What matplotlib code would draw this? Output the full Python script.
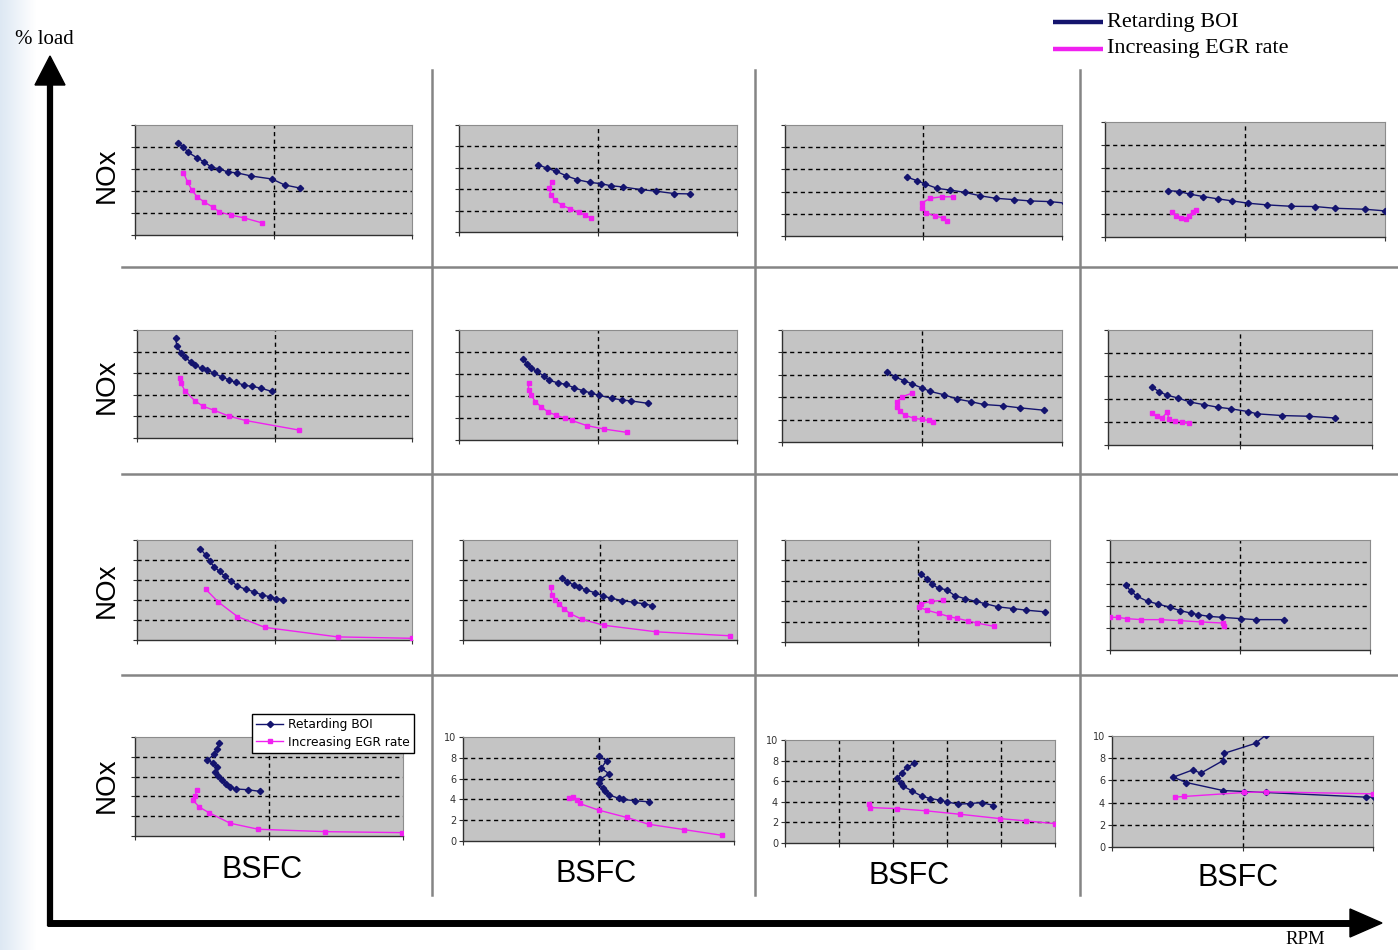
import matplotlib.pyplot as plt
from matplotlib.colors import LinearSegmentedColormap
import numpy as np

W, H = 1398, 950

BOI_COLOR = "#14146e"
EGR_COLOR = "#f020f0"
PANEL_BG = "#c4c4c4"
SERIF = ["Liberation Serif", "DejaVu Serif"]
SANS = ["Liberation Sans", "DejaVu Sans"]

# NOx vs BSFC, one set per panel: row (1 = top, highest load), col (1 = left, lowest rpm)
# x in gridline units (0-2, panel 4-3 is 0-5), y in 0-10

boi_x_11 = [0.31, 0.35, 0.38, 0.45, 0.50, 0.55, 0.61, 0.67, 0.74, 0.84, 0.99, 1.08, 1.19]
boi_y_11 = [8.36, 8.0, 7.55, 7.0, 6.64, 6.18, 6.0, 5.73, 5.64, 5.36, 5.09, 4.55, 4.27]
egr_x_11 = [0.35, 0.38, 0.41, 0.45, 0.50, 0.56, 0.61, 0.69, 0.79, 0.92]
egr_y_11 = [5.64, 4.82, 4.09, 3.45, 3.0, 2.55, 2.09, 1.82, 1.55, 1.09]

boi_x_12 = [0.57, 0.63, 0.70, 0.77, 0.85, 0.94, 1.02, 1.09, 1.18, 1.31, 1.42, 1.55, 1.66]
boi_y_12 = [6.28, 5.98, 5.67, 5.26, 4.89, 4.64, 4.52, 4.33, 4.21, 3.96, 3.81, 3.59, 3.56]
egr_x_12 = [0.67, 0.65, 0.66, 0.69, 0.74, 0.80, 0.86, 0.91, 0.95]
egr_y_12 = [4.64, 4.12, 3.50, 2.97, 2.51, 2.17, 1.86, 1.55, 1.30]

boi_x_13 = [0.88, 0.95, 1.01, 1.10, 1.19, 1.30, 1.41, 1.52, 1.65, 1.77, 1.91, 2.02]
boi_y_13 = [5.31, 5.0, 4.69, 4.29, 4.14, 3.93, 3.62, 3.40, 3.28, 3.16, 3.10, 2.97]
egr_x_13 = [1.21, 1.13, 1.05, 0.99, 0.99, 1.02, 1.08, 1.14, 1.17]
egr_y_13 = [3.53, 3.53, 3.40, 3.0, 2.48, 2.09, 1.81, 1.63, 1.38]

boi_x_14 = [0.45, 0.53, 0.61, 0.70, 0.81, 0.91, 1.02, 1.16, 1.33, 1.50, 1.64, 1.86, 2.0]
boi_y_14 = [4.04, 3.95, 3.72, 3.52, 3.31, 3.14, 2.94, 2.79, 2.67, 2.65, 2.50, 2.41, 2.27]
egr_x_14 = [0.48, 0.51, 0.54, 0.58, 0.60, 0.63, 0.65]
egr_y_14 = [2.21, 1.86, 1.63, 1.57, 1.86, 2.15, 2.35]

boi_x_21 = [0.28, 0.29, 0.32, 0.35, 0.39, 0.42, 0.47, 0.51, 0.56, 0.62, 0.67, 0.72, 0.78, 0.84, 0.90, 0.98]
boi_y_21 = [9.30, 8.50, 7.89, 7.46, 7.06, 6.76, 6.45, 6.30, 6.0, 5.63, 5.38, 5.14, 4.89, 4.77, 4.62, 4.31]
egr_x_21 = [0.31, 0.32, 0.35, 0.42, 0.48, 0.56, 0.67, 0.79, 1.18]
egr_y_21 = [5.54, 5.05, 4.35, 3.46, 2.94, 2.57, 2.02, 1.62, 0.73]

boi_x_22 = [0.46, 0.49, 0.52, 0.56, 0.61, 0.65, 0.71, 0.77, 0.83, 0.89, 0.95, 1.01, 1.10, 1.17, 1.24, 1.36]
boi_y_22 = [7.38, 6.92, 6.54, 6.23, 5.83, 5.42, 5.20, 5.05, 4.74, 4.49, 4.27, 4.05, 3.80, 3.64, 3.55, 3.33]
egr_x_22 = [0.50, 0.50, 0.52, 0.55, 0.59, 0.64, 0.70, 0.76, 0.81, 0.92, 1.04, 1.21]
egr_y_22 = [5.20, 4.58, 4.05, 3.49, 3.02, 2.55, 2.24, 1.99, 1.78, 1.31, 1.00, 0.69]

boi_x_23 = [0.75, 0.81, 0.87, 0.93, 1.00, 1.06, 1.16, 1.25, 1.35, 1.44, 1.58, 1.70, 1.87]
boi_y_23 = [6.28, 5.79, 5.49, 5.18, 4.82, 4.51, 4.21, 3.84, 3.60, 3.35, 3.23, 3.05, 2.84]
egr_x_23 = [0.93, 0.86, 0.82, 0.82, 0.84, 0.88, 0.94, 1.00, 1.05, 1.08]
egr_y_23 = [4.36, 4.05, 3.60, 3.14, 2.74, 2.38, 2.13, 2.01, 1.92, 1.83]

boi_x_24 = [0.33, 0.39, 0.45, 0.53, 0.62, 0.73, 0.83, 0.93, 1.06, 1.13, 1.32, 1.52, 1.72]
boi_y_24 = [5.06, 4.62, 4.32, 4.09, 3.74, 3.50, 3.29, 3.15, 2.91, 2.71, 2.56, 2.50, 2.35]
egr_x_24 = [0.33, 0.37, 0.41, 0.45, 0.46, 0.51, 0.56, 0.61]
egr_y_24 = [2.76, 2.50, 2.38, 2.85, 2.26, 2.09, 2.03, 1.91]

boi_x_31 = [0.46, 0.50, 0.53, 0.56, 0.60, 0.64, 0.68, 0.73, 0.79, 0.85, 0.91, 0.97, 1.01, 1.06]
boi_y_31 = [9.15, 8.47, 7.89, 7.31, 6.87, 6.36, 5.95, 5.41, 5.07, 4.83, 4.49, 4.32, 4.15, 4.05]
egr_x_31 = [0.50, 0.59, 0.73, 0.93, 1.46, 2.0]
egr_y_31 = [5.07, 3.81, 2.35, 1.26, 0.31, 0.17]

boi_x_32 = [0.72, 0.76, 0.81, 0.85, 0.90, 0.96, 1.02, 1.08, 1.16, 1.25, 1.32, 1.38]
boi_y_32 = [6.24, 5.82, 5.49, 5.26, 5.0, 4.74, 4.41, 4.18, 3.95, 3.76, 3.63, 3.43]
egr_x_32 = [0.64, 0.65, 0.67, 0.70, 0.74, 0.78, 0.87, 1.03, 1.41, 1.95]
egr_y_32 = [5.26, 4.51, 4.02, 3.63, 3.10, 2.65, 2.06, 1.47, 0.82, 0.42]

boi_x_33 = [1.03, 1.07, 1.11, 1.16, 1.22, 1.28, 1.36, 1.44, 1.51, 1.61, 1.72, 1.82, 1.96]
boi_y_33 = [6.62, 6.21, 5.67, 5.25, 5.13, 4.55, 4.24, 3.98, 3.76, 3.44, 3.28, 3.12, 2.96]
egr_x_33 = [1.19, 1.10, 1.03, 1.01, 1.07, 1.16, 1.24, 1.30, 1.38, 1.45, 1.58]
egr_y_33 = [4.08, 3.98, 3.76, 3.44, 3.12, 2.80, 2.48, 2.32, 2.07, 1.85, 1.53]

boi_x_34 = [0.12, 0.16, 0.21, 0.29, 0.37, 0.46, 0.54, 0.62, 0.68, 0.76, 0.86, 1.01, 1.12, 1.34]
boi_y_34 = [5.94, 5.33, 4.88, 4.42, 4.18, 3.88, 3.58, 3.36, 3.21, 3.06, 2.97, 2.85, 2.76, 2.76]
egr_x_34 = [0.0, 0.06, 0.13, 0.24, 0.39, 0.54, 0.70, 0.87, 0.88]
egr_y_34 = [2.97, 2.97, 2.85, 2.76, 2.76, 2.67, 2.55, 2.45, 2.15]

boi_x_41 = [0.63, 0.61, 0.59, 0.54, 0.58, 0.61, 0.60, 0.62, 0.65, 0.68, 0.71, 0.75, 0.84, 0.93]
boi_y_41 = [9.42, 8.81, 8.24, 7.66, 7.39, 6.98, 6.44, 6.03, 5.63, 5.29, 4.95, 4.75, 4.68, 4.51]
egr_x_41 = [0.46, 0.45, 0.43, 0.48, 0.55, 0.71, 0.92, 1.42, 1.99]
egr_y_41 = [4.61, 4.07, 3.66, 2.92, 2.37, 1.29, 0.68, 0.44, 0.34]

boi_x_42 = [1.00, 1.06, 1.02, 1.08, 1.01, 1.00, 1.03, 1.05, 1.08, 1.15, 1.18, 1.27, 1.37]
boi_y_42 = [8.19, 7.74, 7.0, 6.45, 5.94, 5.55, 5.06, 4.84, 4.42, 4.10, 4.0, 3.87, 3.77]
egr_x_42 = [0.78, 0.81, 0.84, 0.86, 1.0, 1.21, 1.37, 1.63, 1.91]
egr_y_42 = [4.10, 4.19, 3.94, 3.61, 2.97, 2.26, 1.61, 1.10, 0.55]

boi_x_43 = [2.39, 2.25, 2.16, 2.08, 2.14, 2.19, 2.35, 2.53, 2.69, 2.87, 3.0, 3.21, 3.43, 3.64, 3.86]
boi_y_43 = [7.73, 7.34, 6.82, 6.27, 5.84, 5.52, 5.06, 4.55, 4.32, 4.16, 3.99, 3.77, 3.83, 3.93, 3.64]
egr_x_43 = [1.56, 1.57, 2.07, 2.62, 3.24, 3.98, 4.47, 5.0]
egr_y_43 = [3.77, 3.44, 3.34, 3.12, 2.79, 2.37, 2.14, 1.88]

boi_x_44 = [1.18, 1.10, 0.86, 0.85, 0.68, 0.62, 0.47, 0.57, 0.85, 1.01, 1.18, 1.95, 2.01]
boi_y_44 = [10.1, 9.34, 8.44, 7.78, 6.65, 6.95, 6.29, 5.81, 5.09, 5.0, 4.91, 4.49, 4.49]
egr_x_44 = [0.48, 0.55, 1.01, 1.18, 2.0]
egr_y_44 = [4.49, 4.55, 4.91, 4.97, 4.79]

series_labels = ["Retarding BOI", "Increasing EGR rate"]
ytick_values = [0, 2, 4, 6, 8, 10]

# panel -> (data, x range, pixel box left, right, top, bottom)
panels = [
    ((boi_x_11, boi_y_11, egr_x_11, egr_y_11), 2, (135, 412, 125, 235)),
    ((boi_x_12, boi_y_12, egr_x_12, egr_y_12), 2, (459, 737, 125, 232)),
    ((boi_x_13, boi_y_13, egr_x_13, egr_y_13), 2, (785, 1062, 125, 236)),
    ((boi_x_14, boi_y_14, egr_x_14, egr_y_14), 2, (1105, 1385, 122, 237)),
    ((boi_x_21, boi_y_21, egr_x_21, egr_y_21), 2, (137, 412, 330, 438)),
    ((boi_x_22, boi_y_22, egr_x_22, egr_y_22), 2, (459, 737, 330, 440)),
    ((boi_x_23, boi_y_23, egr_x_23, egr_y_23), 2, (782, 1062, 330, 442)),
    ((boi_x_24, boi_y_24, egr_x_24, egr_y_24), 2, (1108, 1372, 330, 445)),
    ((boi_x_31, boi_y_31, egr_x_31, egr_y_31), 2, (137, 412, 540, 640)),
    ((boi_x_32, boi_y_32, egr_x_32, egr_y_32), 2, (463, 737, 540, 640)),
    ((boi_x_33, boi_y_33, egr_x_33, egr_y_33), 2, (785, 1050, 540, 642)),
    ((boi_x_34, boi_y_34, egr_x_34, egr_y_34), 2, (1110, 1370, 540, 650)),
    ((boi_x_41, boi_y_41, egr_x_41, egr_y_41), 2, (135, 403, 737, 836)),
    ((boi_x_42, boi_y_42, egr_x_42, egr_y_42), 2, (463, 734, 737, 841)),
    ((boi_x_43, boi_y_43, egr_x_43, egr_y_43), 5, (785, 1055, 740, 843)),
    ((boi_x_44, boi_y_44, egr_x_44, egr_y_44), 2, (1112, 1373, 736, 847)),
]

fig = plt.figure(figsize=(W / 100, H / 100), dpi=100)
fig.patch.set_facecolor("white")

# overlay in pixel coordinates for the frame, arrows and labels
ov = fig.add_axes([0, 0, 1, 1], zorder=0)
fade = LinearSegmentedColormap.from_list("fade", ["#dde8f3", "#ffffff"])
ov.imshow(np.linspace(0, 1, 60)[None, :], extent=[0, 36, H, 0], cmap=fade, aspect="auto")
ov.set_xlim(0, W)
ov.set_ylim(H, 0)
ov.set_axis_off()

for x in (432, 755, 1080):
    ov.plot([x, x], [70, 895], color="#858585", lw=1.8)
for y in (267, 474, 675):
    ov.plot([122, W], [y, y], color="#858585", lw=1.8)

# % load / RPM arrows
ov.plot([50, 50], [926, 84], color="black", lw=4.5, solid_capstyle="butt")
ov.fill([35, 65, 50], [85, 85, 56], color="black")
ov.plot([47, 1352], [923, 923], color="black", lw=5, solid_capstyle="butt")
ov.fill([1350, 1350, 1382], [909, 937, 923], color="black")
ov.text(15, 40, "% load", ha="left", va="center", fontsize=15, family=SERIF)
ov.text(1285, 940, "RPM", ha="left", va="center", fontsize=13.5, family=SERIF)

# top-right legend
ov.plot([1053, 1103], [22, 22], color=BOI_COLOR, lw=3.2, solid_capstyle="butt")
ov.plot([1053, 1103], [49, 49], color=EGR_COLOR, lw=3.2, solid_capstyle="butt")
ov.text(1107, 22, series_labels[0], ha="left", va="center", fontsize=16, family=SERIF)
ov.text(1107, 49, series_labels[1], ha="left", va="center", fontsize=16, family=SERIF)

for yc in (175, 386, 590, 785):
    ov.text(107, yc, "NOx", rotation=90, ha="center", va="center", fontsize=20, family=SANS)
for xc, yc in ((262, 870), (596, 874), (909, 876), (1238, 878)):
    ov.text(xc, yc, "BSFC", ha="center", va="center", fontsize=22, family=SANS)

for i, (data, xmax, box) in enumerate(panels):
    bx, by, ex, ey = data
    x0, x1, ytop, ybot = box
    ax = fig.add_axes([x0 / W, 1 - ybot / H, (x1 - x0) / W, (ybot - ytop) / H], zorder=2)
    ax.set_facecolor(PANEL_BG)
    ax.set_xlim(0, xmax)
    ax.set_ylim(0, 10)
    xt = list(range(0, xmax + 1))
    ax.set_xticks(xt)
    ax.set_yticks(ytick_values)
    for y in ytick_values[1:-1]:
        ax.axhline(y, color="black", lw=1, ls=(0, (3, 2.5)), zorder=1)
    for x in xt[1:-1]:
        ax.axvline(x, color="black", lw=1, ls=(0, (3, 2.5)), zorder=1)

    h1, = ax.plot(bx, by, color=BOI_COLOR, lw=1, marker="D", ms=3.2, zorder=3)
    h2, = ax.plot(ex, ey, color=EGR_COLOR, lw=1, marker="s", ms=3.2, zorder=3)

    ax.tick_params(direction="out", length=3, width=0.8, colors="#333333", labelsize=7, pad=2)
    ax.set_xticklabels([])
    if i < 13:
        ax.set_yticklabels([])
    for side in ("left", "bottom"):
        ax.spines[side].set_color("#303030")
        ax.spines[side].set_linewidth(1)
    for side in ("top", "right"):
        ax.spines[side].set_color("#8c8c8c")
        ax.spines[side].set_linewidth(0.8)

    if i == 12:
        ax.legend([h1, h2], series_labels, loc="upper left",
                  bbox_to_anchor=(252 / W, 1 - 714 / H), bbox_transform=fig.transFigure,
                  fontsize=8.8, fancybox=False, edgecolor="black", framealpha=1,
                  borderaxespad=0, handlelength=2.2, borderpad=0.35, labelspacing=0.35,
                  handletextpad=0.4)

fig.savefig("out.png", dpi=100)
